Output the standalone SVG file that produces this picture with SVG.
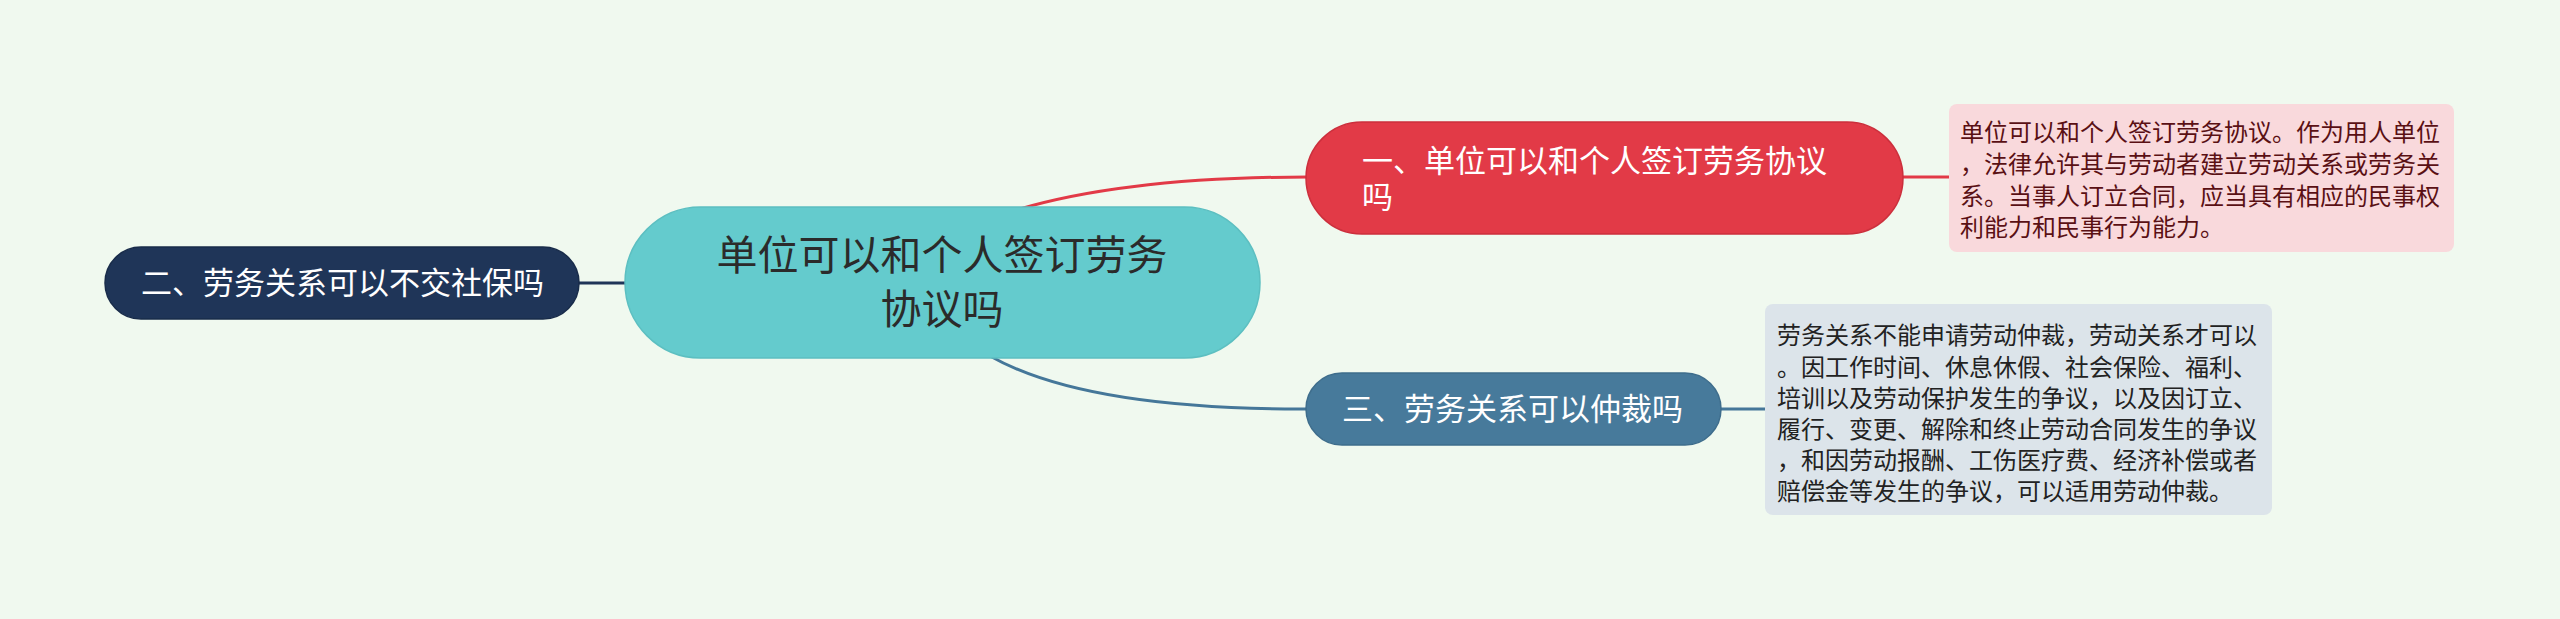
<svg xmlns="http://www.w3.org/2000/svg" width="2560" height="619" viewBox="0 0 2560 619">
<style>
.cjk{font-family:"Noto Sans CJK SC","Noto Sans",sans-serif}
.t-main{font-size:41px;fill:#2b2b2b}
.t-sub{font-size:31px;fill:#ffffff}
.t-note{font-size:24px}
.conn{fill:none;stroke-width:3}
</style>
<rect x="0" y="0" width="2560" height="619" fill="#f0f9ef"/>
<g id="connectors">
<path class="conn" d="M 1020 209 Q 1130 177 1308 177" stroke="#e23a47"/>
<path class="conn" d="M 990 356 Q 1085 410 1308 409" stroke="#457799"/>
<path class="conn" d="M 578 283 L 627 283" stroke="#1f3558"/>
<path class="conn" d="M 1900 177 L 1950 177" stroke="#e23a47"/>
<path class="conn" d="M 1720 409 L 1767 409" stroke="#457799"/>
</g>
<g id="central">
<rect x="625" y="207" width="635" height="151" rx="75.5" fill="#64cbcd" stroke="#5cbfc1" stroke-width="1.5"/>
<text class="cjk t-main" text-anchor="middle"><tspan x="942" y="270">单位可以和个人签订劳务</tspan><tspan x="942" y="324">协议吗</tspan></text>
</g>
<g id="node1">
<rect x="1306" y="122" width="597" height="112" rx="56" fill="#e23a47" stroke="#cc2f3c" stroke-width="1.5"/>
<text class="cjk t-sub"><tspan x="1362" y="172">一、单位可以和个人签订劳务协议</tspan><tspan x="1362" y="208">吗</tspan></text>
</g>
<g id="note1">
<rect x="1949" y="104" width="505" height="148" rx="8" fill="#f9d9dc"/>
<text class="cjk t-note" fill="#5a1014"><tspan x="1960" y="141">单位可以和个人签订劳务协议。作为用人单位</tspan><tspan x="1960" y="173">，法律允许其与劳动者建立劳动关系或劳务关</tspan><tspan x="1960" y="205">系。当事人订立合同，应当具有相应的民事权</tspan><tspan x="1960" y="236">利能力和民事行为能力。</tspan></text>
</g>
<g id="node2">
<rect x="105" y="247" width="474" height="72" rx="36" fill="#1f3558" stroke="#192c4a" stroke-width="1.5"/>
<text class="cjk t-sub" x="141" y="294">二、劳务关系可以不交社保吗</text>
</g>
<g id="node3">
<rect x="1306" y="373" width="415" height="72" rx="36" fill="#477a9b" stroke="#3e6d8c" stroke-width="1.5"/>
<text class="cjk t-sub" x="1342" y="420">三、劳务关系可以仲裁吗</text>
</g>
<g id="note3">
<rect x="1765" y="304" width="507" height="211" rx="8" fill="#dce4ea"/>
<text class="cjk t-note" fill="#222222"><tspan x="1777" y="344">劳务关系不能申请劳动仲裁，劳动关系才可以</tspan><tspan x="1777" y="376">。因工作时间、休息休假、社会保险、福利、</tspan><tspan x="1777" y="407">培训以及劳动保护发生的争议，以及因订立、</tspan><tspan x="1777" y="438">履行、变更、解除和终止劳动合同发生的争议</tspan><tspan x="1777" y="469">，和因劳动报酬、工伤医疗费、经济补偿或者</tspan><tspan x="1777" y="500">赔偿金等发生的争议，可以适用劳动仲裁。</tspan></text>
</g>
</svg>
